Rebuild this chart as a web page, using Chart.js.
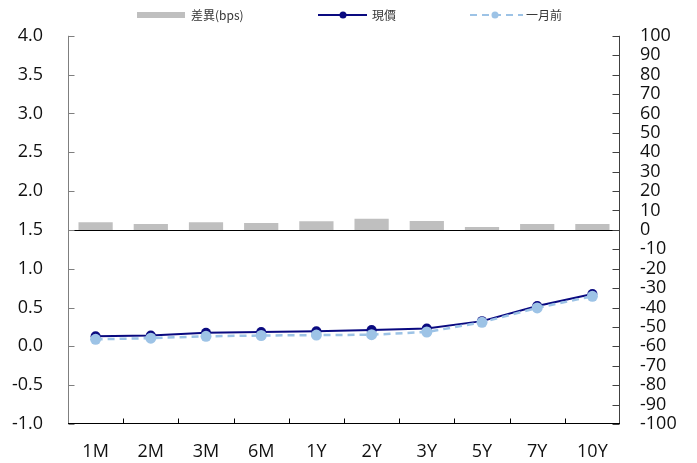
<!DOCTYPE html>
<html>
<head>
<meta charset="utf-8">
<script src="https://cdn.jsdelivr.net/npm/chart.js@4"></script>
<style>
html,body{margin:0;padding:0;background:#fff;}
#wrap{width:697px;height:463px;position:relative;}
</style>
</head>
<body>
<div id="wrap"><canvas id="c" width="697" height="463"></canvas></div>
<script>
const categories = ['1M','2M','3M','6M','1Y','2Y','3Y','5Y','7Y','10Y'];
const currentYield = [0.13,0.14,0.175,0.185,0.195,0.21,0.23,0.325,0.52,0.675];
const monthAgoYield = [0.09,0.105,0.13,0.14,0.145,0.15,0.185,0.31,0.495,0.645];
const diffBps = [4,3,4,3.5,4.5,5.8,4.6,1.5,3,3];
const seriesNames = ['差異(bps)','現價','一月前'];
const leftTicks = {min:-1, max:4, step:0.5};
const rightTicks = {min:-100, max:100, step:10};

const DARK = '#0a0a80', LIGHT = '#9dc3e6', GRAY = '#bfbfbf';
const FONT = "'Open Sans', 'Noto Sans', sans-serif";

const decor = {
  id:'decor',
  afterDatasetsDraw(chart){
    const ctx = chart.ctx, a = chart.chartArea;
    const y = chart.scales.y, y2 = chart.scales.y2, x = chart.scales.x;
    ctx.save();
    ctx.lineWidth = 1;
    const zy = Math.round(y2.getPixelForValue(0)) + 0.5;
    ctx.strokeStyle = '#000';
    ctx.beginPath(); ctx.moveTo(a.left, zy); ctx.lineTo(a.right, zy); ctx.stroke();
    ctx.strokeStyle = '#7f7f7f';
    const lx = Math.round(a.left) + 0.5;
    ctx.beginPath(); ctx.moveTo(lx, a.top); ctx.lineTo(lx, a.bottom); ctx.stroke();
    y.ticks.forEach(t => {
      const py = Math.round(y.getPixelForValue(t.value)) + 0.5;
      ctx.beginPath(); ctx.moveTo(lx, py); ctx.lineTo(lx + 6, py); ctx.stroke();
    });
    ctx.strokeStyle = '#404040';
    const rx = Math.round(a.right) - 0.5;
    ctx.beginPath(); ctx.moveTo(rx, a.top); ctx.lineTo(rx, a.bottom); ctx.stroke();
    y2.ticks.forEach(t => {
      const py = Math.round(y2.getPixelForValue(t.value)) + 0.5;
      ctx.beginPath(); ctx.moveTo(rx, py); ctx.lineTo(rx - 7, py); ctx.stroke();
    });
    ctx.strokeStyle = '#000';
    const by = Math.round(a.bottom) - 0.5;
    ctx.beginPath(); ctx.moveTo(a.left, by); ctx.lineTo(a.right, by); ctx.stroke();
    const n = categories.length;
    for (let i = 1; i < n; i++) {
      const px = Math.round((x.getPixelForValue(i - 1) + x.getPixelForValue(i)) / 2) + 0.5;
      ctx.beginPath(); ctx.moveTo(px, by); ctx.lineTo(px, by - 5); ctx.stroke();
    }
    ctx.restore();
  },
  afterDraw(chart){
    const ctx = chart.ctx;
    ctx.save();
    ctx.font = "12px 'Noto Sans CJK TC', 'Open Sans', sans-serif";
    ctx.textBaseline = 'middle';
    const cy = 15;
    ctx.fillStyle = GRAY;
    ctx.fillRect(137, cy - 3, 48, 6);
    ctx.fillStyle = '#333';
    ctx.fillText(seriesNames[0], 191, cy);
    ctx.strokeStyle = DARK; ctx.lineWidth = 2;
    ctx.beginPath(); ctx.moveTo(318, cy); ctx.lineTo(367, cy); ctx.stroke();
    ctx.fillStyle = DARK;
    ctx.beginPath(); ctx.arc(343, cy, 3.5, 0, Math.PI*2); ctx.fill();
    ctx.fillStyle = '#333';
    ctx.fillText(seriesNames[1], 372, cy);
    ctx.strokeStyle = LIGHT; ctx.lineWidth = 2;
    ctx.setLineDash([7,5]);
    ctx.beginPath(); ctx.moveTo(470, cy); ctx.lineTo(523, cy); ctx.stroke();
    ctx.setLineDash([]);
    ctx.fillStyle = LIGHT;
    ctx.beginPath(); ctx.arc(495, cy, 3.5, 0, Math.PI*2); ctx.fill();
    ctx.fillStyle = '#333';
    ctx.fillText(seriesNames[2], 526, cy);
    ctx.restore();
  }
};

new Chart(document.getElementById('c'), {
  data: {
    labels: categories,
    datasets: [
      {type:'bar', label:seriesNames[0], data:diffBps, yAxisID:'y2', backgroundColor:GRAY,
       barPercentage:0.62, categoryPercentage:1.0, order:3},
      {type:'line', label:seriesNames[1], data:currentYield, yAxisID:'y', borderColor:DARK,
       backgroundColor:DARK, borderWidth:2, pointRadius:5, pointBackgroundColor:DARK,
       pointBorderWidth:0, tension:0, order:2},
      {type:'line', label:seriesNames[2], data:monthAgoYield, yAxisID:'y', borderColor:LIGHT,
       backgroundColor:LIGHT, borderWidth:2.5, borderDash:[7,5], pointRadius:5.5,
       pointBackgroundColor:LIGHT, pointBorderWidth:0, tension:0, order:1}
    ]
  },
  options: {
    responsive:false,
    animation:false,
    layout:{padding:{top:34, left:0, right:0, bottom:0}},
    plugins:{legend:{display:false}, tooltip:{enabled:false}},
    scales:{
      x:{
        type:'category', offset:true,
        grid:{display:false, offset:true, drawTicks:false},
        border:{display:false},
        ticks:{font:{family:FONT, size:18}, color:'#111', padding:17, maxRotation:0, autoSkip:false},
        afterFit(s){ s.height = 39; }
      },
      y:{
        type:'linear', position:'left', min:leftTicks.min, max:leftTicks.max,
        grid:{display:false, drawTicks:false}, border:{display:false},
        ticks:{stepSize:leftTicks.step, maxTicksLimit:50, autoSkip:false,
          font:{family:FONT, size:18}, color:'#111', padding:25,
          callback:v => v.toFixed(1)},
        afterFit(s){ s.width = 68; }
      },
      y2:{
        type:'linear', position:'right', min:rightTicks.min, max:rightTicks.max,
        grid:{display:false, drawTicks:false}, border:{display:false},
        ticks:{stepSize:rightTicks.step, maxTicksLimit:50, autoSkip:false,
          font:{family:FONT, size:18}, color:'#111', padding:20},
        afterFit(s){ s.width = 77; }
      }
    }
  },
  plugins:[decor]
});
</script>
</body>
</html>
